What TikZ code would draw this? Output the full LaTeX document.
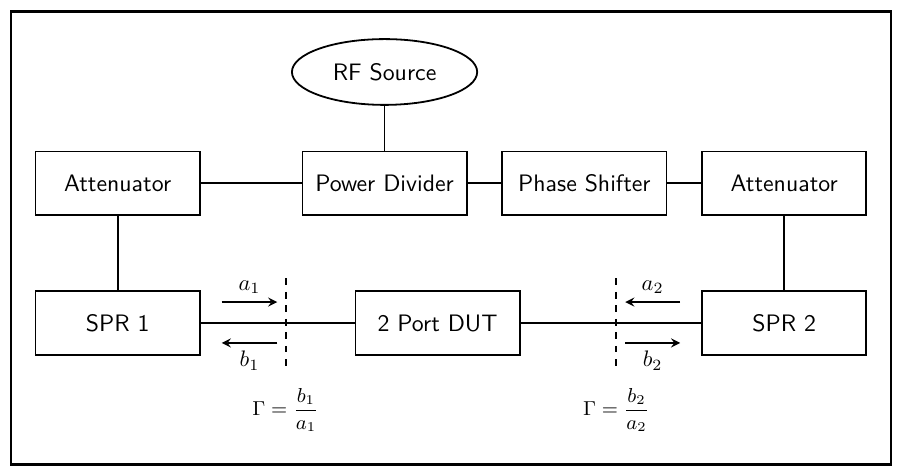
\documentclass[tikz,border=0pt]{standalone}
\usepackage{amsmath, amssymb}
\usepackage{xcolor}
\usepackage{tikz}
\usetikzlibrary{shapes.geometric, arrows, positioning}

\begin{document}
\begin{tikzpicture}[node distance=2cm]
\tikzstyle{block} = [rectangle, minimum width=2.57cm, minimum height=1cm, text centered, draw=black, thick, font=\sffamily\fontsize{10.6}{13}\selectfont]
\tikzstyle{source} = [ellipse, minimum width=2.9cm, minimum height=1.03cm, text centered, draw=black, thick, font=\sffamily\fontsize{10.6}{13}\selectfont]
\tikzstyle{line} = [thick]
\tikzstyle{arrow} = [thick,->,>=stealth]
\tikzstyle{refplane} = [thick, dashed]
\tikzstyle{gamma} = [font=\fontsize{9}{11}\selectfont]

% Source side
\node (pd) [block] {Power Divider};
\node (src) [source, above=0.70cm of pd] {RF Source};
\node (att1) [block, left=1.58cm of pd] {Attenuator};
\node (ps) [block, right=0.53cm of pd] {Phase Shifter};
\node (att2) [block, right=0.53cm of ps] {Attenuator};

% Measurement side
\node (spr1) [block, below=1.16cm of att1] {SPR 1};
\node (dut) [block, right=2.41cm of spr1] {2 Port DUT};
\node (spr2) [block, below=1.16cm of att2] {SPR 2};

% Frame
\coordinate (tl) at ([shift={(-5.85cm,2.69cm)}]pd.center);
\coordinate (br) at ([shift={(7.93cm,-4.40cm)}]pd.center);
\useasboundingbox ([shift={(-6.02cm,2.87cm)}]pd.center) rectangle ([shift={(8.10cm,-4.57cm)}]pd.center);
\draw [very thick] (tl) rectangle (br);

% Connections
\draw [line] (src) -- (pd);
\draw [line] (att1) -- (pd);
\draw [line] (pd) -- (ps);
\draw [line] (ps) -- (att2);
\draw [line] (att1) -- (spr1);
\draw [line] (att2) -- (spr2);
\draw [line] (spr1) -- (dut);
\draw [line] (dut) -- (spr2);

% Reference planes
\coordinate (p1) at ([xshift=1.33cm]spr1.east);
\coordinate (p2) at ([xshift=-1.33cm]spr2.west);
\draw [refplane] ([yshift=0.7cm]p1) -- ([yshift=-0.7cm]p1);
\draw [refplane] ([yshift=0.7cm]p2) -- ([yshift=-0.7cm]p2);

% Waves
\draw [arrow] ([shift={(0.33cm,0.33cm)}]spr1.east) -- node[anchor=south] {$a_1$} ([shift={(-0.13cm,0.33cm)}]p1);
\draw [arrow] ([shift={(-0.13cm,-0.31cm)}]p1) -- node[anchor=north] {$b_1$} ([shift={(0.33cm,-0.31cm)}]spr1.east);
\draw [arrow] ([shift={(-0.33cm,0.33cm)}]spr2.west) -- node[anchor=south] {$a_2$} ([shift={(0.14cm,0.33cm)}]p2);
\draw [arrow] ([shift={(0.14cm,-0.31cm)}]p2) -- node[anchor=north] {$b_2$} ([shift={(-0.33cm,-0.31cm)}]spr2.west);

% Reflection coefficients
\node (g1) [gamma] at ([yshift=-1.36cm]p1) {$\Gamma = \dfrac{b_1}{a_1}$};
\node (g2) [gamma] at ([yshift=-1.36cm]p2) {$\Gamma = \dfrac{b_2}{a_2}$};

\end{tikzpicture}
\end{document}
